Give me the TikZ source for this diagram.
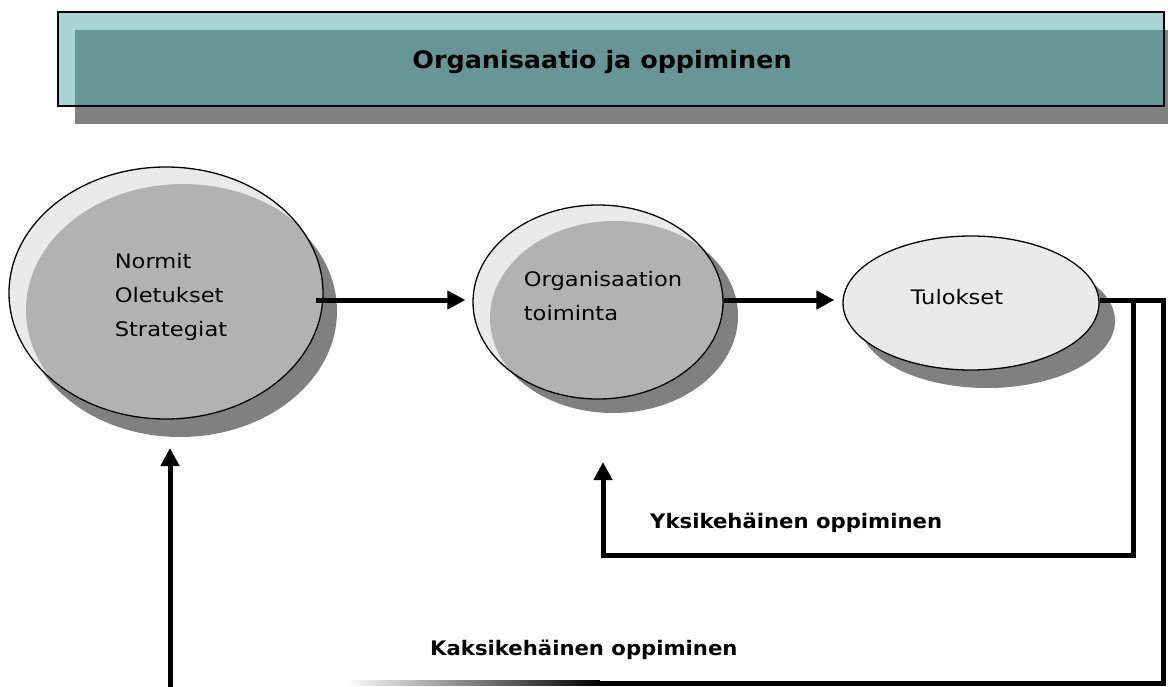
\documentclass[tikz,border=0pt]{standalone}
\usepackage{fontspec}
\usetikzlibrary{arrows.meta,calc,shapes.geometric}
\newfontfamily\comic{DejaVu Sans}[FakeStretch=1.13]
\newfontfamily\comicb{DejaVu Sans}[FakeStretch=1.06]
\definecolor{tealL}{RGB}{168,212,212}
\definecolor{tealD}{RGB}{104,149,149}
\definecolor{shad}{RGB}{128,128,128}
\definecolor{ellL}{RGB}{234,234,234}
\definecolor{ellG}{RGB}{178,178,178}
\tikzset{
  ring/.style={ellipse, draw=black, line width=1.3pt, inner sep=0pt},
  etext/.style={font=\comic\fontsize{20}{34}\selectfont, align=left, inner sep=0pt},
  btext/.style={font=\comicb\bfseries\fontsize{20}{24}\selectfont, inner sep=0pt, anchor=west},
  ttext/.style={font=\comicb\bfseries\fontsize{24}{28}\selectfont, inner sep=0pt},
  ln/.style={line width=5pt, line join=miter},
  arr/.style={ln, -{Triangle[length=18pt,width=18pt]}},
}
\begin{document}
\begin{tikzpicture}[x=1pt,y=-1pt]
\useasboundingbox (0,0) rectangle (1168,686);
% title
\fill[shad] (75,30) rectangle (1172,124);
\fill[tealL] (58,12) rectangle (1164,106);
\fill[tealD] (75,30) rectangle (1164,106);
\node[draw=black, line width=1.5pt, minimum width=1106pt, minimum height=94pt, inner sep=0pt] (title) at (611,59) {};
\node[ttext] (ttl) at (602,62) {Organisaatio ja oppiminen};
% ellipse 1
\fill[shad] (180,311) ellipse [x radius=157, y radius=126];
\fill[ellL] (166,293) ellipse [x radius=157, y radius=126];
\begin{scope}
\clip (166,293) ellipse [x radius=157, y radius=126];
\fill[ellG] (183,310) ellipse [x radius=157, y radius=126];
\end{scope}
\node[ring, minimum width=314pt, minimum height=252pt] (e1) at (166,293) {};
\node[etext] (t1) at (171,297) {Normit\\Oletukset\\Strategiat};
% ellipse 2
\fill[shad] (613,316) ellipse [x radius=125, y radius=97];
\fill[ellL] (598,302) ellipse [x radius=125, y radius=97];
\begin{scope}
\clip (598,302) ellipse [x radius=125, y radius=97];
\fill[ellG] (615,318) ellipse [x radius=125, y radius=97];
\end{scope}
\node[ring, minimum width=250pt, minimum height=194pt] (e2) at (598,302) {};
\node[etext] (t2) at (603,296) {Organisaation\\toiminta};
% ellipse 3
\fill[shad] (987,321) ellipse [x radius=128, y radius=67];
\node[ring, fill=ellL, minimum width=256pt, minimum height=134pt] (e3) at (971,303) {};
\node[etext] (t3) at (957,297) {Tulokset};
% connectors
\draw[arr] ($(e1.east)+(-8,7)$) -- ($(e2.west)+(-7,-2)$);
\draw[arr] ($(e2.east)+(0,-2)$) -- ($(e3.west)+(-8,-3)$);
\coordinate (r1) at (1133,300);
\coordinate (r2) at (1163,300);
\coordinate (b1) at (600,683);
\coordinate (tipA) at (603,462);
\coordinate (tipB) at (170,448);
\coordinate (startB) at (170,690);
\draw[ln] ($(e3.east)+(0,-3)$) -- (r2) -- (1163,683) -- (b1);
\shade[left color=white, right color=black] (345,680.5) rectangle (b1 |- 0,685.5);
\draw[arr] (r1) -- (1133,555) -- (603,555) -- (tipA);
\draw[arr] (startB) -- (tipB);
% labels
\node[btext] (l1) at (650,523) {Yksikehäinen oppiminen};
\node[btext] (l2) at (430,650) {Kaksikehäinen oppiminen};
\end{tikzpicture}
\end{document}
